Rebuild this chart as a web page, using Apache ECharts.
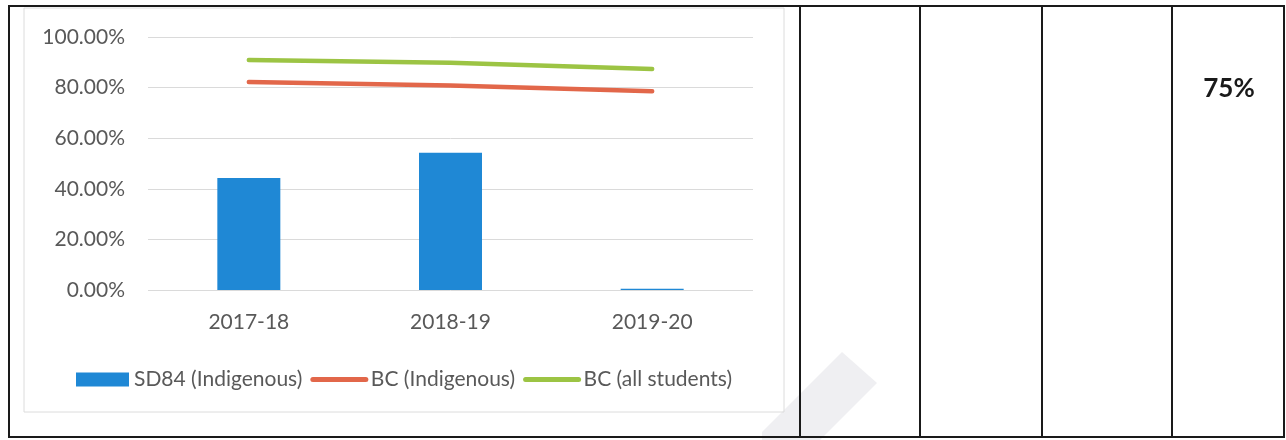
<!DOCTYPE html>
<html>
<head>
<meta charset="utf-8">
<script src="https://cdn.jsdelivr.net/npm/echarts@6/dist/echarts.min.js"></script>
<style>
html,body{margin:0;padding:0;background:#fff;}
#c{width:1286px;height:440px;}
</style>
</head>
<body>
<div id="c"></div>
<script>
var categories = ['2017-18', '2018-19', '2019-20'];
var sd84Indigenous = [44.3, 54.2, 0.5];
var bcIndigenous = [82.2, 80.8, 78.6];
var bcAllStudents = [90.9, 89.8, 87.4];
var yTicks = [0, 20, 40, 60, 80, 100];
var tableCellText = ['', '', '', '75%'];

var FONT = 'Lato, "Open Sans", sans-serif';
var chart = echarts.init(document.getElementById('c'), null, {renderer: 'canvas'});

var vLines = [800, 920, 1042, 1172];
var graphics = [
  {type: 'rect', shape: {x: 24, y: 8, width: 760, height: 404}, style: {fill: 'none', stroke: '#dcdcdc', lineWidth: 1}, z: -1},
  {type: 'polygon', shape: {points: [[842, 352], [877, 383], [820, 440], [762, 440], [762, 432]]}, style: {fill: '#efeff2'}, z: -2},
  {type: 'rect', shape: {x: 9, y: 6, width: 1275, height: 431}, style: {fill: 'none', stroke: '#1a1a1a', lineWidth: 2}, z: 10}
];
vLines.forEach(function (x) {
  graphics.push({type: 'line', shape: {x1: x, y1: 6, x2: x, y2: 437}, style: {stroke: '#1a1a1a', lineWidth: 2}, z: 10});
});
graphics.push({type: 'text', style: {text: tableCellText[3], x: 1229, y: 89, align: 'center', verticalAlign: 'middle', font: 'bold 26px ' + FONT, fill: '#1a1a1a'}, z: 10});

chart.setOption({
  animation: false,
  backgroundColor: '#fff',
  grid: {left: 148, right: 533, top: 37, bottom: 150, containLabel: false},
  legend: {
    left: 71, top: 364,
    itemWidth: 53, itemHeight: 14, itemGap: 8,
    textStyle: {fontFamily: FONT, fontSize: 21, color: '#595959'},
    data: [
      {name: 'SD84 (Indigenous)', icon: 'rect'},
      {name: 'BC (Indigenous)', itemStyle: {opacity: 0}, lineStyle: {width: 5, cap: 'round', color: '#e2674a'}},
      {name: 'BC (all students)', itemStyle: {opacity: 0}, lineStyle: {width: 5, cap: 'round', color: '#9cc444'}}
    ]
  },
  xAxis: {
    type: 'category',
    data: categories,
    axisLine: {show: false},
    axisTick: {show: false},
    axisLabel: {fontFamily: FONT, fontSize: 21, color: '#595959', margin: 22}
  },
  yAxis: {
    type: 'value',
    min: 0, max: 100, interval: 20,
    axisLine: {show: false},
    axisTick: {show: false},
    splitLine: {lineStyle: {color: '#dadada', width: 1}},
    axisLabel: {fontFamily: FONT, fontSize: 21, color: '#595959', margin: 23,
      formatter: function (v) { return v.toFixed(2) + '%'; }}
  },
  series: [
    {name: 'SD84 (Indigenous)', type: 'bar', data: sd84Indigenous, barWidth: 63,
      itemStyle: {color: '#1f88d5'}},
    {name: 'BC (Indigenous)', type: 'line', data: bcIndigenous, symbol: 'none',
      lineStyle: {color: '#e2674a', width: 4.5, cap: 'round'}, itemStyle: {color: '#e2674a'}},
    {name: 'BC (all students)', type: 'line', data: bcAllStudents, symbol: 'none',
      lineStyle: {color: '#9cc444', width: 4.5, cap: 'round'}, itemStyle: {color: '#9cc444'}}
  ],
  graphic: graphics
});
</script>
</body>
</html>
